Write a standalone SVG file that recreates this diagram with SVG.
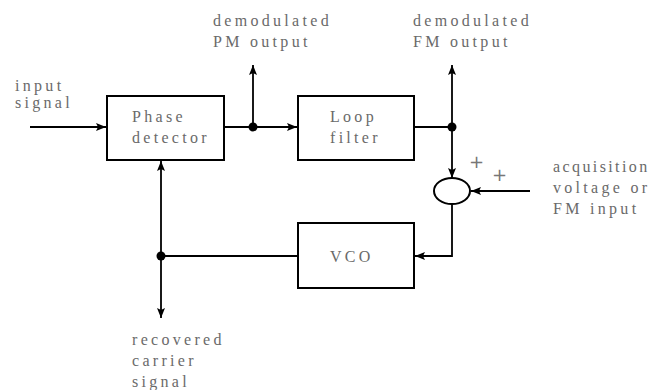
<svg xmlns="http://www.w3.org/2000/svg" width="657" height="390" viewBox="0 0 657 390">
<defs>
<marker id="arr" viewBox="0 0 10 8" refX="10" refY="4" markerWidth="10" markerHeight="8" markerUnits="userSpaceOnUse" orient="auto">
<path d="M0,0 L10,4 L0,8 L2,4 z" fill="#000"/>
</marker>
<style>
.box{fill:#fff;stroke:#000;stroke-width:2}
.ln{fill:none;stroke:#000;stroke-width:1.8}
.t{font-family:'Liberation Serif','DejaVu Serif','Times New Roman',serif;font-size:16px;fill:#6a6a6a;letter-spacing:3.3px}
.p{font-family:'DejaVu Sans',sans-serif;font-size:18px;fill:#777}
.dot{fill:#000}
</style>
</defs>
<rect width="657" height="390" fill="#fff"/>
<g id="connectors">
<line class="ln" x1="30" y1="127" x2="106" y2="127" marker-end="url(#arr)"/>
<line class="ln" x1="224" y1="127" x2="297" y2="127" marker-end="url(#arr)"/>
<line class="ln" x1="253" y1="127" x2="253" y2="65" marker-end="url(#arr)"/>
<line class="ln" x1="414" y1="127" x2="452" y2="127"/>
<line class="ln" x1="452" y1="127" x2="452" y2="65" marker-end="url(#arr)"/>
<line class="ln" x1="452" y1="127" x2="452" y2="178" marker-end="url(#arr)"/>
<line class="ln" x1="530" y1="191" x2="471" y2="191" marker-end="url(#arr)"/>
<polyline class="ln" points="452,204 452,256 415,256" marker-end="url(#arr)"/>
<line class="ln" x1="297" y1="256" x2="161" y2="256"/>
<line class="ln" x1="161" y1="256" x2="161" y2="161" marker-end="url(#arr)"/>
<line class="ln" x1="161" y1="256" x2="161" y2="318" marker-end="url(#arr)"/>
<circle class="dot" cx="253" cy="127" r="4.5"/>
<circle class="dot" cx="452" cy="127" r="4.5"/>
<circle class="dot" cx="161" cy="256" r="4.5"/>
</g>
<g id="phase-detector">
<rect class="box" x="107" y="96" width="117" height="64"/>
<text class="t" x="132" y="122">Phase</text>
<text class="t" x="132" y="143">detector</text>
</g>
<g id="loop-filter">
<rect class="box" x="298" y="96" width="116" height="64"/>
<text class="t" x="330" y="122">Loop</text>
<text class="t" x="330" y="143">filter</text>
</g>
<g id="vco">
<rect class="box" x="298" y="223" width="116" height="65"/>
<text class="t" x="330" y="262">VCO</text>
</g>
<g id="summer">
<ellipse class="box" cx="452" cy="191" rx="18" ry="13"/>
<text class="p" x="469" y="168">+</text>
<text class="p" x="492" y="181">+</text>
</g>
<g id="labels">
<text class="t" x="15" y="91">input</text>
<text class="t" x="15" y="108">signal</text>
<text class="t" x="213" y="26">demodulated</text>
<text class="t" x="213" y="47">PM output</text>
<text class="t" x="413" y="26">demodulated</text>
<text class="t" x="413" y="47">FM output</text>
<text class="t" x="553" y="172" style="letter-spacing:2.4px">acquisition</text>
<text class="t" x="553" y="193">voltage or</text>
<text class="t" x="553" y="214">FM input</text>
<text class="t" x="132" y="345">recovered</text>
<text class="t" x="132" y="366">carrier</text>
<text class="t" x="132" y="387">signal</text>
</g>
</svg>
